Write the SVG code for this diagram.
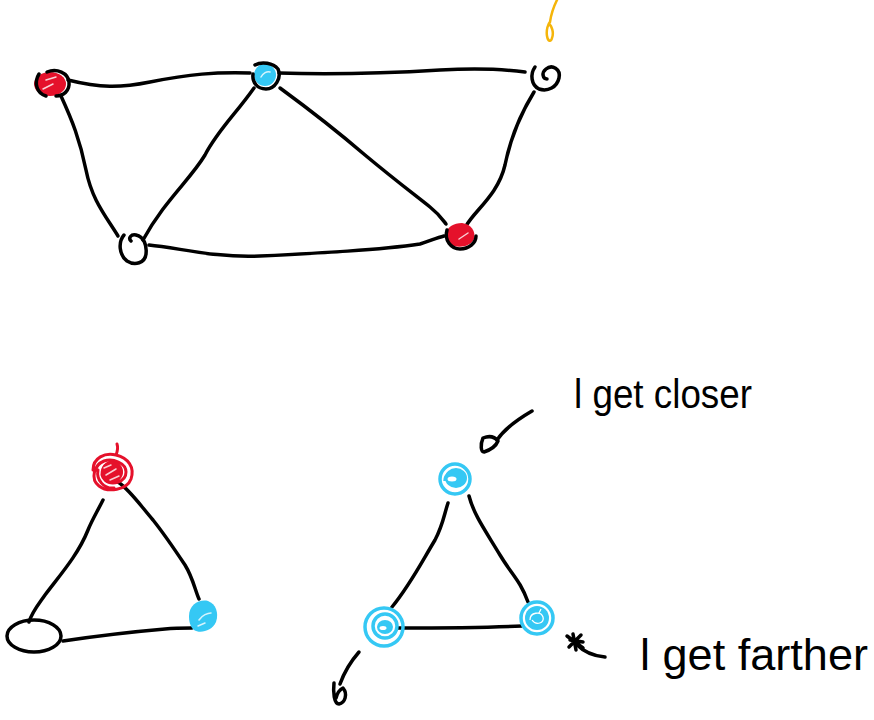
<svg xmlns="http://www.w3.org/2000/svg" width="874" height="720" viewBox="0 0 874 720">
<style>
.e{fill:none;stroke:#000;stroke-width:3.5;stroke-linecap:round;stroke-linejoin:round}
.o{fill:none;stroke:#000;stroke-width:3.5;stroke-linecap:round}
.red{fill:#e5112b}
.blue{fill:#35c8f4}
.bs{fill:none;stroke:#35c8f4;stroke-width:3.5}
.hl{fill:none;stroke:#fff;stroke-width:1.5;stroke-linecap:round;opacity:.8}
.t{font-family:"Liberation Sans",Arial,sans-serif;fill:#000}
</style>
<rect width="874" height="720" fill="#fff"/>
<g id="connectors">
<path class="e" d="M68,80 C100,88 120,88 150,82 C190,74 215,72 250,73"/>
<path class="e" d="M279,73 C340,75 390,73 440,70 C480,68 510,70 525,72"/>
<path class="e" d="M61,96 C72,120 80,140 86,170 C92,200 105,215 118,236"/>
<path class="e" d="M254,88 C235,115 218,130 205,155 C190,180 165,200 143,240"/>
<path class="e" d="M280,88 C310,110 330,125 365,155 C395,180 415,195 430,207 C440,215 443,220 446,224"/>
<path class="e" d="M534,92 C518,118 510,140 505,165 C498,195 475,210 466,226"/>
<path class="e" d="M149,245 C180,248 215,258 260,256 C320,253 380,250 420,244 C430,241 436,238 444,236"/>
<path class="e" d="M103,500 C97,512 92,520 88,530 C78,555 60,575 45,595 C38,605 32,612 29,622"/>
<path class="e" d="M118,482 C130,490 140,505 153,520 C165,535 175,550 185,565 C193,578 195,590 199,599"/>
<path class="e" d="M63,641 C90,637 130,632 165,629 C175,628 185,628 192,628"/>
<path class="e" d="M448,503 C444,515 443,525 435,540 C420,565 410,585 392,607"/>
<path class="e" d="M469,496 C474,515 485,530 500,555 C512,575 520,580 528,602"/>
<path class="e" d="M398,628 C440,628 480,628 522,626"/>
</g>
<g id="nodeA">
<ellipse class="red" cx="50" cy="84" rx="16" ry="12"/>
<path class="hl" d="M43,89 L53,84 M46,80 L56,77"/>
<path class="o" d="M39,74 C34,82 36,93 46,96 M47,72 C57,68 68,73 69,82 C70,91 63,96 56,96"/>
</g>
<g id="nodeB">
<circle class="blue" cx="265" cy="75" r="11"/>
<path class="hl" d="M261,77 C263,73 267,71 270,72"/>
<path class="o" d="M255,65 C262,61 273,63 278,69 C282,78 275,89 266,89 C257,89 252,82 253,74"/>
</g>
<g id="nodeC">
<path class="o" d="M535,67 C530,74 531,85 539,89 C548,92 557,87 559,78 C561,69 552,64 546,69 C541,73 543,79 547,79"/>
</g>
<g id="nodeD">
<path class="o" d="M124,235 C118,242 119,255 127,261 C135,266 145,263 146,254 C147,245 144,237 136,235 C131,234 128,238 131,241"/>
</g>
<g id="nodeE">
<path class="red" d="M446,235 C446,227 454,223 462,223 C471,224 476,231 474,239 C471,246 461,248 454,246 C449,244 446,240 446,235 Z"/>
<path class="hl" d="M459,239 L468,233"/>
<path class="o" d="M447,230 C444,240 451,249 460,249 C469,249 476,243 476,236"/>
</g>
<g id="nodeF">
<path fill="none" stroke="#e5112b" stroke-width="3" stroke-linecap="round" d="M93,470 C93,458 105,452 116,455 C128,458 135,467 131,479 C127,490 108,493 99,486 C90,479 94,465 104,461 C113,458 126,463 126,472 C126,482 112,486 105,480 C98,473 105,461 114,463 C121,465 124,474 117,479 C110,483 103,474 110,467 M116,455 C118,450 118,447 117,444 M98,470 C96,480 104,489 114,488"/>
<circle cx="112" cy="472" r="11" fill="#e5112b"/>
<path class="hl" d="M106,475 L116,469 M104,468 L111,465 M110,480 L119,476"/>
</g>
<g id="nodeG">
<path class="blue" d="M189,616 C189,605 199,599 208,601 C216,604 219,613 216,622 C212,631 200,634 194,630 C190,627 189,621 189,616 Z"/>
<path class="hl" d="M199,620 C202,615 208,613 211,613 M198,626 L205,623"/>
</g>
<g id="nodeH">
<ellipse class="o" cx="34" cy="636" rx="27" ry="16"/>
</g>
<g id="nodeI">
<circle class="bs" cx="455" cy="479" r="15"/>
<ellipse class="blue" cx="456" cy="478" rx="11" ry="10"/>
<ellipse fill="#fff" cx="452" cy="479" rx="4.5" ry="2.5"/>
<path class="bs" d="M445,481 C445,474 452,470 459,472"/>
</g>
<g id="nodeJ">
<circle class="bs" cx="384" cy="627" r="19"/>
<circle class="bs" cx="385" cy="626" r="12"/>
<ellipse class="blue" cx="385" cy="627" rx="8" ry="7"/>
<ellipse fill="#fff" cx="383" cy="628" rx="3.5" ry="2"/>
</g>
<g id="nodeK">
<circle class="bs" cx="537" cy="618" r="16"/>
<circle class="blue" cx="537" cy="618" r="12"/>
<path fill="none" stroke="#fff" stroke-width="1.3" d="M530,620 C530,612 541,611 543,617 C545,623 536,626 532,620 M539,613 L541,609"/>
</g>
<g id="annotations">
<path class="e" d="M532,411 C520,418 505,428 497,440"/>
<path class="e" d="M483,438 C480,445 481,452 484,452 C490,450 496,446 498,441 C494,436 488,436 483,438 Z"/>
<path class="e" d="M605,657 C592,656 582,650 576,644"/>
<path class="e" d="M567,636 L583,648 M569,647 L581,635 M570,640 L583,642 M573,634 L576,650"/>
<path class="e" d="M359,652 C352,660 345,670 340,684"/>
<path class="e" d="M334,683 C333,692 334,704 339,704 C345,703 348,694 343,688 C339,690 337,694 336,698"/>
<path fill="none" stroke="#f5b50a" stroke-width="2.5" stroke-linecap="round" d="M557,0 C553,8 551,15 550,22 C548,24 546,30 547,36 C548,42 551,42 552,38 C554,33 552,26 549,24"/>
<text class="t" x="574" y="408" font-size="40" textLength="178" lengthAdjust="spacingAndGlyphs">l get closer</text>
<text class="t" x="640" y="670" font-size="44" textLength="228" lengthAdjust="spacingAndGlyphs">l get farther</text>
</g>
</svg>
